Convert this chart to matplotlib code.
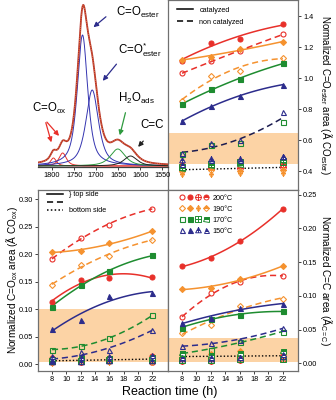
import numpy as np
import matplotlib
matplotlib.use('Agg')
import matplotlib.pyplot as plt
from matplotlib.path import Path
from matplotlib.lines import Line2D
from matplotlib.legend_handler import HandlerTuple

plt.rcParams['font.family'] = ['Liberation Sans', 'DejaVu Sans']
plt.rcParams['mathtext.fontset'] = 'custom'
plt.rcParams['mathtext.rm'] = 'Liberation Sans'
plt.rcParams['mathtext.it'] = 'Liberation Sans:italic'
plt.rcParams['mathtext.bf'] = 'Liberation Sans:bold'
plt.rcParams['mathtext.default'] = 'regular'

# ---------------- data ----------------
hours = [8, 12, 16, 22]
temps = ['200°C', '190°C', '170°C', '150°C']
temp_colors = ['#e8302a', '#f5922f', '#1e8c30', '#2c2c8c']
temp_markers = ['o', 'D', 's', '^']

# spectrum components (cm-1, height, half width)
peak_centers = [1797, 1776, 1731, 1709, 1651, 1622]
peak_heights = [8, 13, 131, 76, 17, 10]
peak_hwhm = [8, 10, 14, 17, 20, 18]
peak_colors = ['#e8302a', '#e8302a', '#3434b0', '#3434b0', '#2e9a3e', '#222222']
spec_ticks = [1800, 1750, 1700, 1650, 1600, 1550]

# C=O ester (rows: 200, 190, 170, 150 C)
ester_cat = [[1.112, 1.228, 1.252, 1.346],
             [1.120, 1.137, 1.187, 1.234],
             [0.832, 0.929, 0.994, 1.095],
             [0.723, 0.819, 0.884, 0.959]]
ester_non = [[1.030, 1.110, 1.174, 1.282],
             [0.852, 1.015, 1.047, 1.131],
             [0.510, 0.570, 0.580, 0.720],
             [0.520, 0.580, 0.600, 0.780]]
ester_bot_cat = [[0.44, 0.43, 0.44, 0.44],
                 [0.40, 0.41, 0.40, 0.41],
                 [0.42, 0.44, 0.45, 0.47],
                 [0.45, 0.47, 0.47, 0.50]]
ester_bot_non = [[0.41, 0.42, 0.42, 0.43],
                 [0.38, 0.38, 0.39, 0.39],
                 [0.43, 0.45, 0.46, 0.46],
                 [0.47, 0.48, 0.48, 0.49]]
ester_bot_mean = [0.41, 0.415, 0.42, 0.425]

# C=O ox
ox_cat = [[0.113, 0.154, 0.157, 0.158],
          [0.204, 0.207, 0.220, 0.242],
          [0.105, 0.145, 0.169, 0.198],
          [0.065, 0.080, 0.125, 0.130]]
ox_non = [[0.191, 0.230, 0.254, 0.283],
          [0.144, 0.181, 0.197, 0.227],
          [0.027, 0.033, 0.048, 0.089],
          [0.008, 0.022, 0.026, 0.063]]
ox_bot_cat = [[0.012, 0.010, 0.012, 0.015],
              [0.008, 0.008, 0.009, 0.010],
              [0.010, 0.012, 0.012, 0.014],
              [0.015, 0.014, 0.015, 0.017]]
ox_bot_non = [[0.005, 0.004, 0.006, 0.005],
              [0.003, 0.006, 0.005, 0.005],
              [0.006, 0.007, 0.008, 0.008],
              [0.004, 0.005, 0.006, 0.007]]
ox_bot_mean = [0.007, 0.007, 0.008, 0.010]

# C=C
cc_cat = [[0.144, 0.156, 0.182, 0.229],
          [0.110, 0.112, 0.125, 0.144],
          [0.053, 0.066, 0.072, 0.077],
          [0.060, 0.067, 0.082, 0.088]]
cc_non = [[0.068, 0.104, 0.120, 0.130],
          [0.045, 0.057, 0.085, 0.096],
          [0.015, 0.020, 0.032, 0.047],
          [0.025, 0.030, 0.035, 0.052]]
cc_bot_cat = [[0.008, 0.009, 0.012, 0.012],
              [0.012, 0.014, 0.018, 0.016],
              [0.015, 0.012, 0.015, 0.018],
              [0.010, 0.010, 0.010, 0.013]]
cc_bot_non = [[0.004, 0.004, 0.005, 0.006],
              [0.006, 0.006, 0.007, 0.008],
              [0.005, 0.005, 0.006, 0.007],
              [0.007, 0.007, 0.008, 0.009]]
cc_bot_mean = [0.010, 0.010, 0.011, 0.011]

band_ester = (0.45, 0.65)
band_ox = (0.005, 0.10)
band_cc = (0.002, 0.038)

# ---------------- helpers ----------------
M, L, C = Path.MOVETO, Path.LINETO, Path.CLOSEPOLY


def crossed(kind):
    if kind == 'o':
        base = Path.unit_circle()
        bv, bc = base.vertices, base.codes
        cross = [[-1, 0], [1, 0], [0, -1], [0, 1]]
    elif kind == 's':
        bv = np.array([[-1, -1], [1, -1], [1, 1], [-1, 1], [-1, -1]], float)
        bc = [M, L, L, L, C]
        cross = [[-1, 0], [1, 0], [0, -1], [0, 1]]
    elif kind == 'D':
        bv = np.array([[0, -1], [0.7, 0], [0, 1], [-0.7, 0], [0, -1]], float)
        bc = [M, L, L, L, C]
        cross = [[-0.7, 0], [0.7, 0], [0, -1], [0, 1]]
    else:
        bv = np.array([[0, 1], [-1, -0.8], [1, -0.8], [0, 1]], float)
        bc = [M, L, L, C]
        cross = [[-0.55, 0.0], [0.55, 0.0], [0, -0.8], [0, 1]]
    verts = np.concatenate([np.asarray(bv, float), np.array(cross, float)])
    codes = list(bc) + [M, L, M, L]
    return Path(verts, codes)


MS = 3.6


def msize(m):
    return MS * (0.85 if m == 'D' else 1.0)


def mk_open(ax, y, i):
    return ax.plot(hours, y, ls='none', marker=temp_markers[i], ms=msize(temp_markers[i]),
                   mfc='none', mec=temp_colors[i], mew=0.8, zorder=5)[0]


def mk_fill(ax, y, i):
    return ax.plot(hours, y, ls='none', marker=temp_markers[i], ms=msize(temp_markers[i]),
                   mfc=temp_colors[i], mec=temp_colors[i], mew=0.8, zorder=5)[0]


def mk_cross(ax, y, i):
    return ax.plot(hours, y, ls='none', marker=crossed(temp_markers[i]), ms=MS * 1.15,
                   mfc='none', mec=temp_colors[i], mew=0.7, zorder=4)[0]


def mk_half(ax, y, i):
    return ax.plot(hours, y, ls='none', marker=temp_markers[i], ms=msize(temp_markers[i]),
                   mfc=temp_colors[i], mfcalt='white', fillstyle='top',
                   mec=temp_colors[i], mew=0.7, zorder=4)[0]


xs = np.linspace(8, 22, 100)


def fit_line(ax, y, color, ls, deg=2, lw=1.1):
    p = np.polyfit(hours, y, deg)
    ax.plot(xs, np.polyval(p, xs), color=color, ls=ls, lw=lw, zorder=3)


SP = '#707070'


def style_box(ax):
    for s in ax.spines.values():
        s.set_color(SP)
        s.set_linewidth(0.9)
    ax.tick_params(colors='#404040', labelcolor='black', labelsize=5.3,
                   length=2.2, width=0.7, direction='out', pad=1.5)


# ---------------- figure ----------------
fig = plt.figure(figsize=(3.36, 4.0), dpi=100)

# spectrum
axs = fig.add_axes([38 / 336, 1 - 167 / 400, 130 / 336, 167 / 400])
axs.set_zorder(5)
wn = np.linspace(1860, 1520, 700)
total = np.zeros_like(wn)
for c, h, w, col in zip(peak_centers, peak_heights, peak_hwhm, peak_colors):
    lor = 1.0 / (1 + ((wn - c) / w) ** 2)
    gau = np.exp(-np.log(2) * ((wn - c) / w) ** 2)
    comp = h * (0.7 * lor + 0.3 * gau)
    total += comp
    axs.plot(wn, comp, color=col, lw=0.7)
axs.plot(wn, total, color='#b5302a', lw=1.3)
axs.plot(wn, total, color='#f09040', lw=0.6, ls=':')
axs.set_xlim(1832, 1537)
axs.set_ylim(-1, 166)
axs.set_xticks(spec_ticks)
axs.set_yticks([])
for s in ['left', 'top', 'right']:
    axs.spines[s].set_visible(False)
style_box(axs)
axs.spines['bottom'].set_color('#404040')
axs.patch.set_alpha(0)

fs_ann = 8.3
axs.annotate('', xy=(1711, 137), xytext=(1673, 151),
             arrowprops=dict(arrowstyle='-|>', color='#2c2c8c', lw=0.9, mutation_scale=7))
axs.text(1605, 154, r'C=O$_{ester}$', ha='center', va='center', fontsize=fs_ann)
axs.annotate('', xy=(1689, 83), xytext=(1650, 104),
             arrowprops=dict(arrowstyle='-|>', color='#2c2c8c', lw=0.9, mutation_scale=7))
axs.text(1600, 116, r'C=O$^{*}_{ester}$', ha='center', va='center', fontsize=fs_ann)
axs.annotate('', xy=(1648, 28), xytext=(1632, 56),
             arrowprops=dict(arrowstyle='-|>', color='#2e9a3e', lw=0.9, mutation_scale=7))
axs.text(1609, 68, r'H$_2$O$_{ads}$', ha='center', va='center', fontsize=fs_ann)
axs.annotate('', xy=(1609, 17), xytext=(1589, 27),
             arrowprops=dict(arrowstyle='-|>', color='#222222', lw=0.9, mutation_scale=7))
axs.text(1573, 41, 'C=C', ha='center', va='center', fontsize=fs_ann)
for hx, hy in [(1800, 21), (1780, 28)]:
    axs.annotate('', xy=(hx, hy), xytext=(1816, 46),
                 arrowprops=dict(arrowstyle='-|>', color='#e8302a', lw=0.9, mutation_scale=7))
axs.text(1807, 58, r'C=O$_{ox}$', ha='center', va='center', fontsize=fs_ann)

# ester panel
axe = fig.add_axes([0.5, 0.525, 0.387, 0.475])
axe.axhspan(*band_ester, color='#fcd3a5', lw=0, zorder=0)
for i in range(4):
    fit_line(axe, ester_cat[i], temp_colors[i], '-')
    mk_fill(axe, ester_cat[i], i)
    mk_open(axe, ester_non[i], i)
    mk_half(axe, ester_bot_cat[i], i)
    mk_cross(axe, ester_bot_non[i], i)
for i in range(2):
    fit_line(axe, ester_non[i], temp_colors[i], (0, (4, 2.5)))
combined = [(a + b) / 2 for a, b in zip(ester_non[2], ester_non[3])]
fit_line(axe, combined, '#1c1c50', (0, (4, 2.5)))
fit_line(axe, ester_bot_mean, 'black', (0, (1, 1.5)), deg=1, lw=1.0)
axe.set_xlim(6.05, 24.1)
axe.set_ylim(0.28, 1.503)
axe.set_yticks([0.4, 0.6, 0.8, 1.0, 1.2, 1.4])
axe.set_yticklabels(['0.4', '0.6', '0.8', '1.0', '1.2', '1.4'])
axe.set_xticks([])
axe.yaxis.tick_right()
axe.yaxis.set_label_position('right')
style_box(axe)
axe.set_ylabel(r'Normalized C=O$_{ester}$ area (Ã CO$_{ester}$)', rotation=270,
               fontsize=7.0, va='center')
axe.yaxis.set_label_coords(1.215, 0.5)
axe.legend(handles=[Line2D([], [], color='black', lw=1.1),
                    Line2D([], [], color='black', lw=1.1, ls=(0, (4, 2.5)))],
           labels=['catalyzed', 'non catalyzed'], loc='upper left',
           bbox_to_anchor=(0.02, 1.0), frameon=False, fontsize=5.2,
           handlelength=2.2, handletextpad=0.9, labelspacing=0.75)

# ox panel
axo = fig.add_axes([38 / 336, 0.0725, 0.387, 0.4525])
axo.axhspan(*band_ox, color='#fcd3a5', lw=0, zorder=0)
for i in range(4):
    fit_line(axo, ox_cat[i], temp_colors[i], '-')
    fit_line(axo, ox_non[i], temp_colors[i], (0, (4, 2.5)))
    mk_fill(axo, ox_cat[i], i)
    mk_open(axo, ox_non[i], i)
    mk_half(axo, ox_bot_cat[i], i)
    mk_cross(axo, ox_bot_non[i], i)
fit_line(axo, ox_bot_mean, 'black', (0, (1, 1.5)), deg=1, lw=1.0)
axo.set_xlim(6.05, 24.2)
axo.set_ylim(-0.012, 0.317)
axo.set_xticks([8, 10, 12, 14, 16, 18, 20, 22])
axo.set_yticks([0.0, 0.05, 0.10, 0.15, 0.20, 0.25, 0.30])
axo.set_yticklabels(['0.00', '0.05', '0.10', '0.15', '0.20', '0.25', '0.30'])
style_box(axo)
axo.set_ylabel(r'Normalized C=O$_{ox}$ area (Ã CO$_{ox}$)', fontsize=7.2, va='center')
axo.yaxis.set_label_coords(-0.2, 0.5)
axo.legend(handles=[Line2D([], [], color='black', lw=1.1),
                    Line2D([], [], color='black', lw=1.1, ls=(0, (4, 2.5))),
                    Line2D([], [], color='black', lw=1.1, ls=(0, (1, 1.5)))],
           labels=['} top side', ' ', 'bottom side'], loc='upper left',
           bbox_to_anchor=(0.02, 1.03), frameon=False, fontsize=5.2,
           handlelength=2.2, handletextpad=0.9, labelspacing=0.15)

# C=C panel
axc = fig.add_axes([0.5, 0.0725, 0.387, 0.4525])
axc.axhspan(*band_cc, color='#fcd3a5', lw=0, zorder=0)
rows = []
for i in range(4):
    fit_line(axc, cc_cat[i], temp_colors[i], '-')
    fit_line(axc, cc_non[i], temp_colors[i], (0, (4, 2.5)))
    a = mk_open(axc, cc_non[i], i)
    b = mk_fill(axc, cc_cat[i], i)
    c = mk_cross(axc, cc_bot_non[i], i)
    d = mk_half(axc, cc_bot_cat[i], i)
    rows.append((a, b, c, d))
fit_line(axc, cc_bot_mean, 'black', (0, (1, 1.5)), deg=1, lw=1.0)
axc.set_xlim(6.05, 24.1)
axc.set_ylim(-0.0115, 0.257)
axc.set_xticks([8, 10, 12, 14, 16, 18, 20, 22])
axc.set_yticks([0.0, 0.05, 0.10, 0.15, 0.20, 0.25])
axc.set_yticklabels(['0.00', '0.05', '0.10', '0.15', '0.20', '0.25'])
axc.yaxis.tick_right()
axc.yaxis.set_label_position('right')
style_box(axc)
axc.set_ylabel(r'Normalized C=C area (Ã$_{C=C}$)', rotation=270, fontsize=7.2, va='center')
axc.yaxis.set_label_coords(1.215, 0.5)
axc.legend(handles=rows, labels=temps, loc='upper left', bbox_to_anchor=(0.03, 1.01),
           frameon=False, fontsize=5.2, handlelength=4.2, handletextpad=0.5,
           labelspacing=0.55, handler_map={tuple: HandlerTuple(ndivide=None, pad=0.25)})

fig.text(170 / 336, 1 - 392 / 400, 'Reaction time (h)', ha='center', va='center', fontsize=9)

fig.savefig('out.png', dpi=100)
